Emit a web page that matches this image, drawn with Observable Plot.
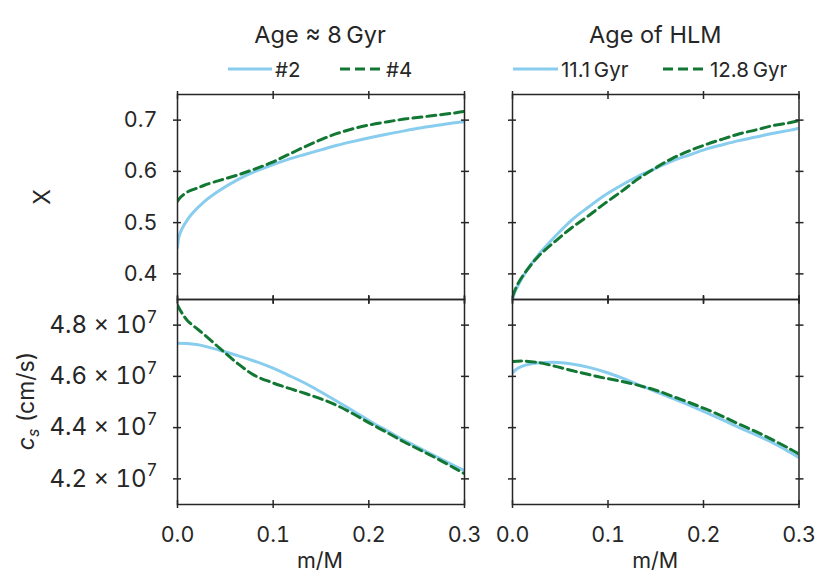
<!DOCTYPE html>
<html><head><meta charset="utf-8">
<script src="https://cdn.jsdelivr.net/npm/d3@7"></script>
<script src="https://cdn.jsdelivr.net/npm/@observablehq/plot@0.6"></script>
<style>
body{margin:0;background:#fff;}
#chart{position:relative;width:830px;height:588px;font-family:Inter, sans-serif;color:#222;overflow:hidden;}
#chart svg{position:absolute;}
</style></head><body><div id="chart"></div>
<script>
// ---------- data ----------
// Top-left: X vs m/M, Age ≈ 8 Gyr
const mTL2 = [0, 0.001, 0.003, 0.007, 0.014, 0.028, 0.045, 0.063, 0.08, 0.098, 0.115, 0.133, 0.15, 0.167, 0.185, 0.202, 0.22, 0.237, 0.255, 0.272, 0.29, 0.3];
const xTL2 = [0.451, 0.468, 0.481, 0.496, 0.515, 0.541, 0.564, 0.584, 0.599, 0.612, 0.623, 0.633, 0.642, 0.651, 0.659, 0.666, 0.673, 0.679, 0.685, 0.690, 0.695, 0.697];
const mTL4 = [0, 0.004, 0.0105, 0.02, 0.028, 0.045, 0.063, 0.08, 0.098, 0.115, 0.133, 0.15, 0.167, 0.185, 0.202, 0.22, 0.237, 0.255, 0.272, 0.29, 0.3];
const xTL4 = [0.542, 0.551, 0.560, 0.567, 0.573, 0.583, 0.593, 0.604, 0.617, 0.632, 0.648, 0.662, 0.674, 0.684, 0.691, 0.697, 0.702, 0.706, 0.710, 0.714, 0.717];
// Top-right: X vs m/M, Age of HLM
const mTR11 = [0, 0.0028, 0.0063, 0.0098, 0.018, 0.027, 0.045, 0.062, 0.08, 0.097, 0.115, 0.132, 0.15, 0.167, 0.185, 0.202, 0.22, 0.237, 0.255, 0.272, 0.29, 0.3];
const xTR11 = [0.350, 0.366, 0.379, 0.391, 0.415, 0.437, 0.474, 0.505, 0.531, 0.554, 0.574, 0.591, 0.606, 0.620, 0.632, 0.643, 0.652, 0.660, 0.667, 0.674, 0.680, 0.684];
const mTR12 = [0, 0.003, 0.006, 0.013, 0.027, 0.045, 0.062, 0.08, 0.097, 0.115, 0.132, 0.15, 0.167, 0.185, 0.202, 0.22, 0.237, 0.255, 0.272, 0.29, 0.3];
const xTR12 = [0.356, 0.370, 0.382, 0.402, 0.434, 0.464, 0.490, 0.514, 0.538, 0.562, 0.586, 0.607, 0.625, 0.640, 0.652, 0.663, 0.673, 0.681, 0.689, 0.695, 0.699];
// Bottom-left: c_s (cm/s), Age ≈ 8 Gyr
const mBL2 = [0, 0.01, 0.02, 0.028, 0.045, 0.063, 0.08, 0.098, 0.115, 0.133, 0.15, 0.167, 0.185, 0.202, 0.22, 0.237, 0.255, 0.272, 0.29, 0.3];
const cBL2 = [4.729e7, 4.728e7, 4.724e7, 4.718e7, 4.701e7, 4.681e7, 4.660e7, 4.635e7, 4.606e7, 4.574e7, 4.539e7, 4.502e7, 4.462e7, 4.423e7, 4.386e7, 4.350e7, 4.316e7, 4.284e7, 4.250e7, 4.232e7];
const mBL4 = [0, 0.005, 0.0105, 0.02, 0.028, 0.045, 0.063, 0.08, 0.098, 0.115, 0.133, 0.15, 0.167, 0.185, 0.202, 0.22, 0.237, 0.255, 0.272, 0.29, 0.3];
const cBL4 = [4.878e7, 4.845e7, 4.817e7, 4.787e7, 4.763e7, 4.707e7, 4.650e7, 4.605e7, 4.577e7, 4.555e7, 4.534e7, 4.512e7, 4.486e7, 4.451e7, 4.415e7, 4.379e7, 4.344e7, 4.310e7, 4.278e7, 4.241e7, 4.220e7];
// Bottom-right: c_s (cm/s), Age of HLM
const mBR11 = [0, 0.004, 0.0098, 0.02, 0.034, 0.048, 0.062, 0.08, 0.097, 0.115, 0.132, 0.15, 0.167, 0.185, 0.202, 0.22, 0.237, 0.255, 0.272, 0.29, 0.3];
const cBR11 = [4.613e7, 4.628e7, 4.639e7, 4.649e7, 4.654e7, 4.654e7, 4.648e7, 4.635e7, 4.617e7, 4.593e7, 4.567e7, 4.541e7, 4.515e7, 4.488e7, 4.460e7, 4.430e7, 4.401e7, 4.372e7, 4.342e7, 4.305e7, 4.283e7];
const mBR12 = [0, 0.01, 0.027, 0.045, 0.062, 0.08, 0.097, 0.115, 0.132, 0.15, 0.167, 0.185, 0.202, 0.22, 0.237, 0.255, 0.272, 0.29, 0.3];
const cBR12 = [4.658e7, 4.660e7, 4.654e7, 4.639e7, 4.623e7, 4.607e7, 4.593e7, 4.580e7, 4.565e7, 4.546e7, 4.523e7, 4.498e7, 4.473e7, 4.444e7, 4.414e7, 4.384e7, 4.353e7, 4.318e7, 4.297e7];

// ticks and labels
const mTicks = [0, 0.1, 0.2, 0.3];
const mTickLabels = ["0.0", "0.1", "0.2", "0.3"];
const xTicks = [0.4, 0.5, 0.6, 0.7];
const xTickLabels = ["0.4", "0.5", "0.6", "0.7"];
const cTicks = [4.2e7, 4.4e7, 4.6e7, 4.8e7];
const cTickLabels = ["4.2 × 10^7", "4.4 × 10^7", "4.6 × 10^7", "4.8 × 10^7"];
const colTitles = ["Age ≈ 8\u2009Gyr", "Age of HLM"];
const legendLeft = ["#2", "#4"];
const legendRight = ["11.1\u2009Gyr", "12.8\u2009Gyr"];
const xLabel = "m/M";

// ---------- style ----------
const INK = "#262626";
const BLUE = "#88CCEE", GREEN = "#117733";
const FONT = "Inter, sans-serif";
const chart = document.getElementById("chart");

const zipPts = (m, v) => m.map((d, i) => ({m: d, v: v[i]}));

function panel({fl, ft, fw, fh, s1, s2, yDomain, yTicks, yLabels, yFont, showY, showX}) {
  const mL = showY ? 170 : 12, mR = 12, mT = 12, mB = showX ? 80 : 12;
  const marks = [
    Plot.line(s1, {x: "m", y: "v", stroke: BLUE, strokeWidth: 3, curve: "catmull-rom", clip: true}),
    Plot.line(s2, {x: "m", y: "v", stroke: GREEN, strokeWidth: 3, strokeDasharray: "9,5", curve: "catmull-rom", clip: true}),
    Plot.frame({stroke: INK, strokeWidth: 1.5}),
    Plot.axisX(mTicks, {anchor: "bottom", tickSize: 8, dy: -4, stroke: INK, strokeWidth: 1.5, fill: "none", label: null}),
    Plot.axisX(mTicks, {anchor: "top", tickSize: 8, dy: 4, stroke: INK, strokeWidth: 1.5, fill: "none", label: null}),
    Plot.axisY(yTicks, {anchor: "left", tickSize: 8, dx: 4, stroke: INK, strokeWidth: 1.5, fill: "none", label: null}),
    Plot.axisY(yTicks, {anchor: "right", tickSize: 8, dx: -4, stroke: INK, strokeWidth: 1.5, fill: "none", label: null})
  ];
  if (showY) marks.push(Plot.axisY(yTicks, {anchor: "left", tickSize: 0, tickPadding: 20, fill: INK, fontSize: yFont, label: null,
    tickFormat: d => yLabels[yTicks.indexOf(d)]}));
  if (showX) marks.push(Plot.axisX(mTicks, {anchor: "bottom", tickSize: 0, tickPadding: 22, fill: INK, fontSize: 21.5, label: null,
    tickFormat: d => mTickLabels[mTicks.indexOf(d)]}));
  const svg = Plot.plot({
    width: mL + fw + mR, height: mT + fh + mB,
    marginLeft: mL, marginRight: mR, marginTop: mT, marginBottom: mB,
    x: {domain: [0, 0.3]},
    y: {domain: yDomain},
    style: {fontFamily: FONT, background: "transparent", overflow: "visible"},
    marks
  });
  svg.style.left = (fl - mL) + "px";
  svg.style.top = (ft - mT) + "px";
  // superscript exponents in tick labels
  svg.querySelectorAll("text").forEach(t => {
    const s = t.textContent;
    if (s.includes("^")) {
      const [base, exp] = s.split("^");
      while (t.firstChild) t.removeChild(t.firstChild);
      t.appendChild(document.createTextNode(base));
      const sup = document.createElementNS("http://www.w3.org/2000/svg", "tspan");
      sup.setAttribute("font-size", "0.7em");
      sup.setAttribute("dy", "-0.6em");
      sup.textContent = exp;
      t.appendChild(sup);
    }
  });
  chart.appendChild(svg);
}

const TOP = 93.5, MID = 298.5, FH = 205;
panel({fl: 176.5, ft: TOP, fw: 287, fh: FH, s1: zipPts(mTL2, xTL2), s2: zipPts(mTL4, xTL4), yDomain: [0.35, 0.75], yTicks: xTicks, yLabels: xTickLabels, yFont: 21.5, showY: true, showX: false});
panel({fl: 512, ft: TOP, fw: 286.5, fh: FH, s1: zipPts(mTR11, xTR11), s2: zipPts(mTR12, xTR12), yDomain: [0.35, 0.75], yTicks: xTicks, yLabels: xTickLabels, yFont: 21.5, showY: false, showX: false});
panel({fl: 176.5, ft: MID, fw: 287, fh: FH, s1: zipPts(mBL2, cBL2), s2: zipPts(mBL4, cBL4), yDomain: [4.1e7, 4.9e7], yTicks: cTicks, yLabels: cTickLabels, yFont: 24, showY: true, showX: true});
panel({fl: 512, ft: MID, fw: 286.5, fh: FH, s1: zipPts(mBR11, cBR11), s2: zipPts(mBR12, cBR12), yDomain: [4.1e7, 4.9e7], yTicks: cTicks, yLabels: cTickLabels, yFont: 24, showY: false, showX: true});

// ---------- titles, legends, axis labels ----------
const ov = d3.select(chart).append("svg")
  .attr("width", 830).attr("height", 588)
  .style("left", "0px").style("top", "0px")
  .attr("font-family", FONT).attr("fill", INK);

const centers = [176.5 + 287 / 2, 512 + 286.5 / 2];
colTitles.forEach((t, i) => ov.append("text").attr("x", centers[i]).attr("y", 43).attr("text-anchor", "middle").attr("font-size", 23.5).text(t));

function legendItem(x1, x2, dashed, tx, label) {
  ov.append("line").attr("x1", x1).attr("x2", x2).attr("y1", 69).attr("y2", 69)
    .attr("stroke", dashed ? GREEN : BLUE).attr("stroke-width", 3)
    .attr("stroke-dasharray", dashed ? "10,5" : null);
  ov.append("text").attr("x", tx).attr("y", 77).attr("font-size", 20.5).text(label);
}
legendItem(228, 272, false, 275, legendLeft[0]);
legendItem(340, 380, true, 386, legendLeft[1]);
legendItem(513, 558, false, 561, legendRight[0]);
legendItem(663, 707, true, 710, legendRight[1]);

centers.forEach(cx => ov.append("text").attr("x", cx).attr("y", 568).attr("text-anchor", "middle").attr("font-size", 21.5).text(xLabel));

ov.append("text").attr("transform", "translate(50,197) rotate(-90)").attr("text-anchor", "middle").attr("font-size", 23).text("X");
const cs = ov.append("text").attr("transform", "translate(34,401) rotate(-90)").attr("text-anchor", "middle").attr("font-size", 23);
cs.append("tspan").attr("font-style", "italic").text("c");
cs.append("tspan").attr("font-style", "italic").attr("font-size", 16).attr("dy", 5).text("s");
cs.append("tspan").attr("dy", -5).text(" (cm/s)");
</script></body></html>
